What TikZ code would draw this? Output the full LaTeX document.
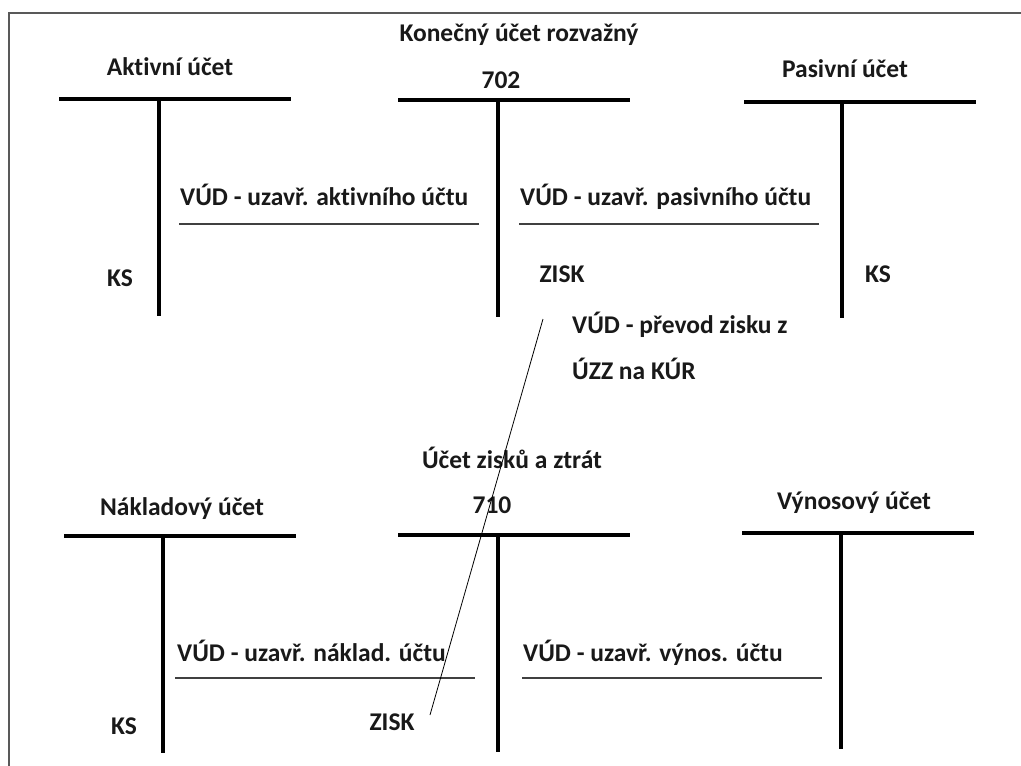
\documentclass[tikz,border=0pt]{standalone}
\usepackage{fontspec}
\setmainfont{Carlito}[Ligatures=NoCommon]
\begin{document}
\begin{tikzpicture}[x=1pt,y=-1pt,
  lbl/.style={inner sep=0pt, text height=20pt, text depth=5pt,
    font=\fontsize{25.5}{28}\selectfont\bfseries, text=black!90},
  bar/.style={line width=4pt, black},
  stem/.style={line width=4pt, black},
  rule/.style={line width=1.1pt, black!75},
  link/.style={line width=0.8pt, black},
  frame/.style={line width=2pt, black!65}]
\useasboundingbox (0,0) rectangle (1021,766);
\fill[white] (0,0) rectangle (1021,766);
% frame
\draw[frame] (9,766) -- (9,12.5) -- (1021,12.5);

% --- top row ---
\node[lbl] (aktT) at (170,68) {Aktivní účet};
\draw[bar] (59,99) -- (291,99);
\draw[stem] (159,99) -- (159,316);
\node[lbl] (aktKS) at (120,279) {KS};

\node[lbl] (konT) at (519,34) {Konečný účet rozvažný};
\node[lbl] (konN) at (501,81) {702};
\draw[bar] (398,100) -- (630,100);
\draw[stem] (498,100) -- (498,317);
\node[lbl, anchor=west] (vudA) at (180,198) {VÚD - uzavř. aktivního účtu};
\draw[rule] (179,224) -- (479,224);
\node[lbl, anchor=west] (vudP) at (520,198) {VÚD - uzavř. pasivního účtu};
\draw[rule] (519,224) -- (819,224);
\node[lbl] (zisk1) at (562,275) {ZISK};

\node[lbl] (pasT) at (845,70) {Pasivní účet};
\draw[bar] (744,102) -- (976,102);
\draw[stem] (842,102) -- (842,318);
\node[lbl] (pasKS) at (878,275) {KS};

% --- transfer ---
\node[lbl, anchor=west] (prev1) at (572,326) {VÚD - převod zisku z};
\node[lbl, anchor=west] (prev2) at (572,372) {ÚZZ na KÚR};

% --- bottom row ---
\node[lbl] (uzzT) at (512,461) {Účet zisků a ztrát};
\node[lbl] (uzzN) at (492,506) {710};
\draw[bar] (398,535) -- (630,535);
\draw[stem] (498,535) -- (498,752);

\node[lbl] (nakT) at (182,508) {Nákladový účet};
\draw[bar] (64,536) -- (296,536);
\draw[stem] (163,536) -- (163,753);
\node[lbl] (nakKS) at (124,727) {KS};
\node[lbl, anchor=west] (vudN) at (177,654) {VÚD - uzavř. náklad. účtu};
\draw[rule] (175,678) -- (475,678);
\node[lbl] (zisk2) at (392,723) {ZISK};

\node[lbl] (vynT) at (854,502) {Výnosový účet};
\draw[bar] (742,533) -- (974,533);
\draw[stem] (841,533) -- (841,749);
\node[lbl, anchor=west] (vudV) at (523,654) {VÚD - uzavř. výnos. účtu};
\draw[rule] (522,678) -- (822,678);

% connector from ZISK (710) to ZISK (702)
\coordinate (linkTop) at (543,319);
\coordinate (linkBot) at (430,715);
\draw[link] (linkBot) -- (linkTop);
\end{tikzpicture}
\end{document}
